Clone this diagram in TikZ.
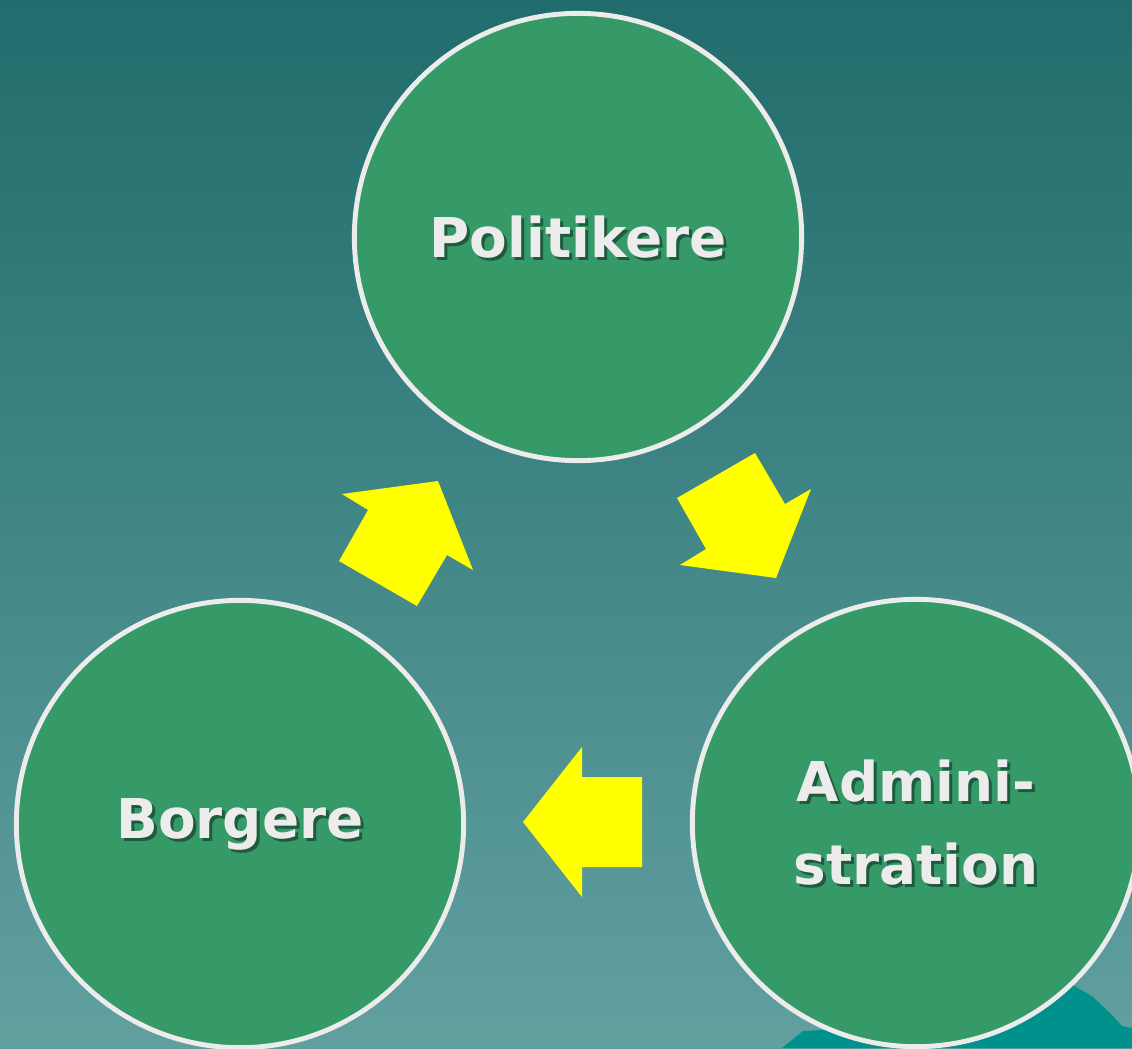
\documentclass[tikz,border=0pt]{standalone}
\usepackage{fontspec}
\setmainfont{DejaVu Sans}
\definecolor{bgtop}{RGB}{33,108,108}
\definecolor{bgbot}{RGB}{98,160,160}
\definecolor{ringfill}{RGB}{53,154,104}
\definecolor{ringline}{RGB}{236,236,236}
\definecolor{txtshade}{RGB}{30,90,60}
\definecolor{hill}{RGB}{0,145,141}
\definecolor{arrowyellow}{RGB}{255,255,0}
\begin{document}
\begin{tikzpicture}[x=0.025cm,y=-0.025cm,
  ring/.style={circle,fill=ringfill,draw=ringline,line width=3.5pt,minimum size=11.18cm,inner sep=0pt},
  lbl/.style={text=ringline,font=\bfseries\fontsize{39}{59}\selectfont,align=center},
  lblshade/.style={lbl,text=txtshade},
  blockarrow/.style={fill=arrowyellow,draw=none}]
\useasboundingbox (0,0) rectangle (1132,1048);
\shade[top color=bgtop,bottom color=bgbot] (0,0) rectangle (1132,1048);
%hills in the corner
\fill[hill] (782,1048) -- (803,1031) -- (860,1028) -- (960,1010) -- (1050,995) -- (1073,985)
  -- (1093,997) -- (1112,1015) -- (1122,1026) -- (1132,1028) -- (1132,1048) -- cycle;
%circles with labels
\foreach \n/\x/\y/\t in {pol/578/237/Politikere,bor/240/824/Borgere,adm/916/823/{Admini-\\stration}}{
  \node[ring] (\n) at (\x,\y) {};
  \node[lblshade] (\n s) at ([shift={(3,3)}]\n) {\t};
  \node[lbl] (\n t) at (\n) {\t};
}
%yellow arrows
\fill[blockarrow] (342,494) -- (438,481) -- (473,570) -- (447,555) -- (417,606) -- (339,561) -- (368,510) -- cycle;
\fill[blockarrow] (677,498) -- (755,453) -- (785,504) -- (811,489) -- (776,578) -- (680,565) -- (706,549) -- cycle;
\fill[blockarrow] (523,822) -- (582,747) -- (582,777) -- (642,777) -- (642,867) -- (582,867) -- (582,897) -- cycle;
\end{tikzpicture}
\end{document}
